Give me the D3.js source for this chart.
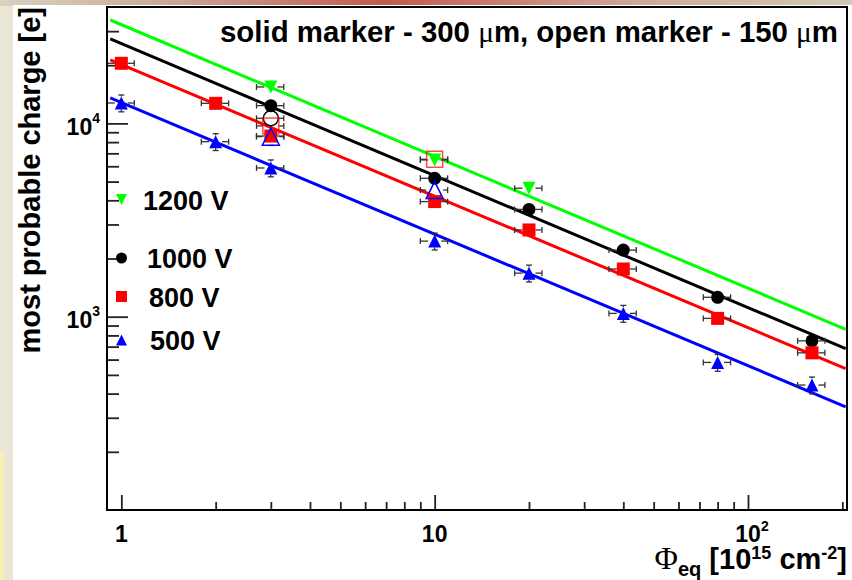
<!DOCTYPE html>
<html>
<head>
<meta charset="utf-8">
<script src="https://cdn.jsdelivr.net/npm/d3@7"></script>
<style>
  body { margin: 0; background: #ece6d6; }
  text { font-family: "Liberation Sans", Arial, Helvetica, sans-serif; font-weight: bold; fill: #000; }
  .greek { font-family: "Liberation Serif", "DejaVu Serif", serif; font-weight: normal; }
</style>
</head>
<body>
<div id="chart"></div>
<script>
// fluence of the measured points [10^15 cm^-2]
var fluence = [1, 2, 3, 10, 20, 40, 80, 160];
var legendLabels = ["1200 V", "1000 V", "800 V", "500 V"];
var colors = ["#00ff00", "#000000", "#ff0000", "#0000ff"];
var markers = ["triDown", "circle", "square", "triUp"];

// most probable charge [e], 300 um sensors (solid markers)
var charge1200 = [null, null, 15430, 6470, 4620, null, null, null];
var charge1000 = [null, null, 12350, 5200, 3590, 2210, 1260, 750];
var charge800 = [20460, 12700, 8600, 3940, 2810, 1765, 980, 650];
var charge500 = [12750, 8040, 5880, 2460, 1680, 1040, 580, 443];

// 150 um sensors (open markers)
var thinFluence = [3, 10];
var thin1200 = [null, null];
var thin1000 = [10630, null];
var thin800 = [9700, 6520];
var thin500 = [8540, 4520];

// power law fits: charge at both ends of the drawn range
var fitRange = [0.922, 205];
var fit1200 = [34260, 860];
var fit1000 = [27330, 683];
var fit800 = [21280, 538];
var fit500 = [13535, 342];

// relative errors
var xErrFrac = 0.1;
var yErrFrac = [0.04, 0.04, 0.04, 0.1];

// axis ticks
var xMajor = [1, 10, 100];
var xTickLabels = ["1", "10", "10^2"];
var xMinor = [2, 3, 4, 5, 6, 7, 8, 9, 20, 30, 40, 50, 60, 70, 80, 90, 200];
var yMajor = [1000, 10000];
var yTickLabels = ["10^3", "10^4"];
var yMinor = [200, 300, 400, 500, 600, 700, 800, 900, 2000, 3000, 4000, 5000, 6000, 7000, 8000, 9000, 20000, 30000];

var solid = [charge1200, charge1000, charge800, charge500];
var thin = [thin1200, thin1000, thin800, thin500];
var fits = [fit1200, fit1000, fit800, fit500];

var margin = { top: 7, left: 107 };
var w = 740;
var h = 503;

// marker outline as path string, centred on 0,0
function markerPath(type, s) {
  if (type == "square") return "M" + (-s / 2) + "," + (-s / 2) + "h" + s + "v" + s + "h" + (-s) + "Z";
  if (type == "triUp") return "M0," + (-s / 2) + "L" + (s * 0.5) + "," + (s / 2) + "L" + (-s * 0.5) + "," + (s / 2) + "Z";
  if (type == "triDown") return "M0," + (s / 2) + "L" + (s * 0.5) + "," + (-s / 2) + "L" + (-s * 0.5) + "," + (-s / 2) + "Z";
  return d3.symbol().type(d3.symbolCircle).size(Math.PI * s * s / 4)();
}

var svg = d3.select("#chart")
  .append("svg")
  .attr("width", 852)
  .attr("height", 580);

// slide background
var defs = svg.append("defs");
var grad = defs.append("linearGradient").attr("id", "topband");
grad.append("stop").attr("offset", "0").attr("stop-color", "#d9d2c0");
grad.append("stop").attr("offset", "0.2").attr("stop-color", "#c9a79a");
grad.append("stop").attr("offset", "0.45").attr("stop-color", "#c35a4c");
grad.append("stop").attr("offset", "0.75").attr("stop-color", "#cfa89a");
grad.append("stop").attr("offset", "1").attr("stop-color", "#cfc8b6");
svg.append("rect").attr("width", 852).attr("height", 580).attr("fill", "#ece6d6");
svg.append("rect").attr("width", 852).attr("height", 6).attr("fill", "url(#topband)");
svg.append("rect").attr("x", 0).attr("y", 452).attr("width", 4).attr("height", 128).attr("fill", "#f8efb8");
svg.append("rect").attr("x", 13).attr("y", 5).attr("width", 839).attr("height", 575).attr("fill", "#fff");

var x = d3.scaleLog().domain([0.9, 207]).range([0, w]);
var y = d3.scaleLog().domain([100, 40000]).range([h, 0]);

var g = svg.append("g")
  .attr("transform", "translate(" + margin.left + "," + margin.top + ")");

// ticks (pointing into the frame)
function tickAxis(axis, cls) {
  var a = g.append("g").attr("class", cls).call(axis);
  a.select(".domain").remove();
  a.selectAll("line").attr("stroke", "#222").attr("stroke-width", 1.8);
  return a;
}
tickAxis(d3.axisLeft(y).tickValues(yMajor).tickSize(-21).tickFormat(""), "y-major");
tickAxis(d3.axisLeft(y).tickValues(yMinor).tickSize(-12).tickFormat(""), "y-minor");
tickAxis(d3.axisBottom(x).tickValues(xMajor).tickSize(-15).tickFormat(""), "x-major")
  .attr("transform", "translate(0," + h + ")");
tickAxis(d3.axisBottom(x).tickValues(xMinor).tickSize(-8).tickFormat(""), "x-minor")
  .attr("transform", "translate(0," + h + ")");

// tick labels with exponents
function powerLabel(sel, label, supSize, rise) {
  var parts = label.split("^");
  sel.append("tspan").text(parts[0]);
  if (parts[1]) sel.append("tspan").attr("dy", -rise).attr("font-size", supSize).text(parts[1]);
}
g.selectAll(".ylab")
  .data(yMajor)
  .enter()
  .append("text")
  .attr("class", "ylab")
  .attr("x", -7)
  .attr("y", function(d) { return y(d) + 11.5; })
  .attr("text-anchor", "end")
  .attr("font-size", 23)
  .each(function(d, i) { powerLabel(d3.select(this), yTickLabels[i], 14, 12); });
g.selectAll(".xlab")
  .data(xMajor)
  .enter()
  .append("text")
  .attr("class", "xlab")
  .attr("x", function(d, i) { return x(d) + (xTickLabels[i].indexOf("^") > 0 ? 4 : 0); })
  .attr("y", h + 32)
  .attr("text-anchor", "middle")
  .attr("font-size", 23)
  .each(function(d, i) { powerLabel(d3.select(this), xTickLabels[i], 14, 11); });

// fit lines
var line = d3.line()
  .x(function(d) { return x(d[0]); })
  .y(function(d) { return y(d[1]); });
fits.forEach(function(f, i) {
  g.append("path")
    .datum([[fitRange[0], f[0]], [fitRange[1], f[1]]])
    .attr("d", line)
    .attr("fill", "none")
    .attr("stroke", colors[i])
    .attr("stroke-width", 3);
});

// collect points
var points = [];
solid.forEach(function(vals, i) {
  vals.forEach(function(v, j) {
    if (v != null) points.push({ f: fluence[j], q: v, s: i, open: false });
  });
});
thin.forEach(function(vals, i) {
  vals.forEach(function(v, j) {
    if (v != null) points.push({ f: thinFluence[j], q: v, s: i, open: true });
  });
});

var solidSize = { circle: 13, square: 13, triUp: 13, triDown: 13 };
var openSize = { circle: 15, square: 16, triUp: 17, triDown: 17 };

// error bars, left out inside the marker like ROOT does
var cap = 3;
var err = g.append("g").attr("stroke", "#333").attr("stroke-width", 1.3);
function seg(x1, y1, x2, y2) {
  err.append("line").attr("x1", x1).attr("y1", y1).attr("x2", x2).attr("y2", y2);
}
points.forEach(function(p) {
  var m = markers[p.s];
  var r = (p.open ? openSize[m] : solidSize[m]) / 2;
  var cx = x(p.f), cy = y(p.q);
  var x0 = x(p.f * (1 - xErrFrac)), x1 = x(p.f * (1 + xErrFrac));
  var y0 = y(p.q * (1 - yErrFrac[p.s])), y1 = y(p.q * (1 + yErrFrac[p.s]));
  if (x0 < cx - r) { seg(x0, cy, cx - r, cy); seg(x0, cy - cap, x0, cy + cap); }
  if (x1 > cx + r) { seg(cx + r, cy, x1, cy); seg(x1, cy - cap, x1, cy + cap); }
  if (y0 > cy + r) { seg(cx, cy + r, cx, y0); seg(cx - cap, y0, cx + cap, y0); }
  if (y1 < cy - r) { seg(cx, cy - r, cx, y1); seg(cx - cap, y1, cx + cap, y1); }
});

// markers: solid first, open on top
g.selectAll(".pt")
  .data(points.filter(function(p) { return !p.open; }).concat(points.filter(function(p) { return p.open; })))
  .enter()
  .append("path")
  .attr("class", "pt")
  .attr("transform", function(d) { return "translate(" + x(d.f) + "," + y(d.q) + ")"; })
  .attr("d", function(d) {
    var m = markers[d.s];
    return markerPath(m, d.open ? openSize[m] : solidSize[m]);
  })
  .attr("fill", function(d) { return d.open ? "none" : colors[d.s]; })
  .attr("stroke", function(d) { return d.open ? colors[d.s] : "none"; })
  .attr("stroke-opacity", function(d) { return d.open && d.s == 2 ? 0.7 : 1; })
  .attr("stroke-width", 1.5);

// frame
g.append("rect")
  .attr("width", w)
  .attr("height", h)
  .attr("fill", "none")
  .attr("stroke", "#000")
  .attr("stroke-width", 2);

// legend
var legendRowY = [199.5, 258, 296.5, 340];
var legendTextX = [143, 147, 149, 150];
var legend = svg.append("g").attr("class", "legend");
legendLabels.forEach(function(label, i) {
  legend.append("path")
    .attr("transform", "translate(121.5," + legendRowY[i] + ")")
    .attr("d", markerPath(markers[i], 11))
    .attr("fill", colors[i]);
  legend.append("text")
    .attr("x", legendTextX[i])
    .attr("y", legendRowY[i] + 10)
    .attr("font-size", 27)
    .text(label);
});

// header text
var head = svg.append("text")
  .attr("x", 838)
  .attr("y", 41.5)
  .attr("text-anchor", "end")
  .attr("font-size", 29.4);
head.append("tspan").text("solid marker - 300 ");
head.append("tspan").attr("class", "greek").text("\u03bc");
head.append("tspan").text("m, open marker - 150 ");
head.append("tspan").attr("class", "greek").text("\u03bc");
head.append("tspan").text("m");

// y title
svg.append("text")
  .attr("transform", "translate(39.5,7) rotate(-90)")
  .attr("text-anchor", "end")
  .attr("font-size", 29)
  .text("most probable charge [e]");

// x title
var xt = svg.append("text")
  .attr("x", 847)
  .attr("y", 569)
  .attr("text-anchor", "end")
  .attr("font-size", 29);
xt.append("tspan").attr("class", "greek").attr("font-size", 32).text("\u03a6");
xt.append("tspan").attr("font-size", 20).attr("dy", 7).text("eq");
xt.append("tspan").attr("dy", -7).text(" [10");
xt.append("tspan").attr("font-size", 18).attr("dy", -10.5).text("15");
xt.append("tspan").attr("dy", 10.5).text(" cm");
xt.append("tspan").attr("font-size", 18).attr("dy", -10.5).text("-2");
xt.append("tspan").attr("dy", 10.5).text("]");
</script>
</body>
</html>
